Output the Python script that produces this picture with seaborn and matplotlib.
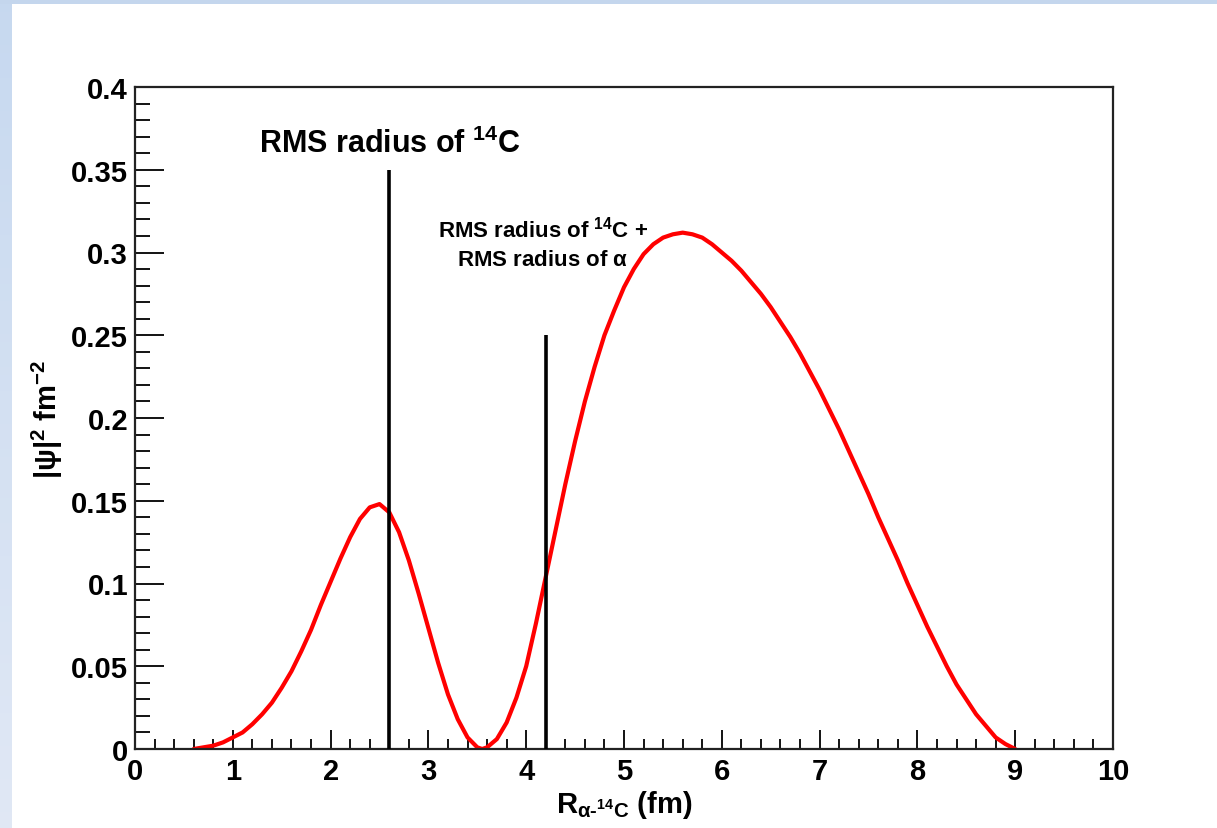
import numpy as np
import pandas as pd
import matplotlib
matplotlib.use("Agg")
import matplotlib.pyplot as plt
import seaborn as sns

# radial probability density of the alpha + 14C relative wave function
r_fm = [0.6, 0.7, 0.8, 0.9, 1.0, 1.1, 1.2, 1.3, 1.4, 1.5, 1.6, 1.7, 1.8, 1.9,
        2.0, 2.1, 2.2, 2.3, 2.4, 2.5, 2.6, 2.7, 2.8, 2.9, 3.0, 3.1, 3.2, 3.3,
        3.4, 3.5, 3.55, 3.6, 3.7, 3.8, 3.9, 4.0, 4.1, 4.2, 4.3, 4.4, 4.5, 4.6,
        4.7, 4.8, 4.9, 5.0, 5.1, 5.2, 5.3, 5.4, 5.5, 5.6, 5.7, 5.8, 5.9, 6.0,
        6.1, 6.2, 6.3, 6.4, 6.5, 6.6, 6.7, 6.8, 6.9, 7.0, 7.1, 7.2, 7.3, 7.4,
        7.5, 7.6, 7.7, 7.8, 7.9, 8.0, 8.1, 8.2, 8.3, 8.4, 8.5, 8.6, 8.7, 8.8,
        8.9, 9.0]
psi2 = [0.000, 0.001, 0.002, 0.004, 0.007, 0.010, 0.015, 0.021, 0.028, 0.037,
        0.047, 0.059, 0.072, 0.087, 0.101, 0.115, 0.128, 0.139, 0.146, 0.148,
        0.143, 0.131, 0.114, 0.094, 0.073, 0.052, 0.033, 0.018, 0.007, 0.001,
        0.000, 0.001, 0.006, 0.016, 0.031, 0.050, 0.076, 0.104, 0.132, 0.160,
        0.186, 0.210, 0.231, 0.250, 0.265, 0.279, 0.290, 0.299, 0.305, 0.309,
        0.311, 0.312, 0.311, 0.309, 0.305, 0.300, 0.295, 0.289, 0.282, 0.275,
        0.267, 0.258, 0.249, 0.239, 0.228, 0.217, 0.205, 0.193, 0.180, 0.167,
        0.154, 0.140, 0.127, 0.114, 0.100, 0.087, 0.074, 0.062, 0.050, 0.039,
        0.030, 0.021, 0.014, 0.007, 0.003, 0.000]

# reference radii (fm) and the heights of their marker lines
marker_r = [2.6, 4.2]
marker_top = [0.35, 0.25]

x_ticks = [0, 1, 2, 3, 4, 5, 6, 7, 8, 9, 10]
y_ticks = [0, 0.05, 0.1, 0.15, 0.2, 0.25, 0.3, 0.35, 0.4]
y_tick_labels = ["0", "0.05", "0.1", "0.15", "0.2", "0.25", "0.3", "0.35", "0.4"]

sns.set_style("ticks")
plt.rcParams["font.family"] = ["Liberation Sans", "DejaVu Sans"]
plt.rcParams["font.weight"] = "bold"
plt.rcParams["text.color"] = "black"
plt.rcParams["axes.labelcolor"] = "black"
plt.rcParams["mathtext.fontset"] = "custom"
plt.rcParams["mathtext.rm"] = "Liberation Sans:bold"
plt.rcParams["mathtext.it"] = "Liberation Sans:bold"
plt.rcParams["mathtext.bf"] = "Liberation Sans:bold"
plt.rcParams["mathtext.default"] = "rm"

fig = plt.figure(figsize=(12.17, 8.29), dpi=100, facecolor="white")

# pale blue slide border on the top and left edges
band_top = fig.add_axes([0, 1 - 5 / 829, 1, 5 / 829])
band_top.imshow(np.ones((1, 2, 3)) * np.array([0.77, 0.84, 0.93]), aspect="auto")
band_top.axis("off")
band_left = fig.add_axes([0, 0, 12 / 1217, 1 - 5 / 829])
grad = np.linspace(0, 1, 100)[:, None, None]
top_c = np.array([0.78, 0.85, 0.94])
bot_c = np.array([0.88, 0.91, 0.96])
band_left.imshow(top_c * (1 - grad) + bot_c * grad, aspect="auto")
band_left.axis("off")

ax = fig.add_axes([135 / 1217, 1 - 750 / 829, (1113 - 135) / 1217, (750 - 88) / 829])

df = pd.DataFrame({"r": r_fm, "psi2": psi2})
sns.lineplot(data=df, x="r", y="psi2", color="#ff0000", linewidth=3.0, ax=ax,
             sort=False)

ax.vlines(marker_r, [0, 0], marker_top, colors="black", linewidth=2.6, zorder=3)

ax.text(2.6, 0.366, r"RMS radius of $^{14}$C", ha="center", va="center",
        fontsize=22, fontweight="bold")
ax.text(4.17, 0.3145, r"RMS radius of $^{14}$C +", ha="center", va="center",
        fontsize=16, fontweight="bold")
ax.text(4.17, 0.2955, r"RMS radius of $\alpha$", ha="center", va="center",
        fontsize=16, fontweight="bold")

ax.set_xlim(0, 10)
ax.set_ylim(0, 0.4)
ax.set_xticks(x_ticks)
ax.set_xticks(np.arange(0, 10.01, 0.2), minor=True)
ax.set_yticks(y_ticks)
ax.set_yticklabels(y_tick_labels)
ax.set_yticks(np.arange(0, 0.401, 0.01), minor=True)

ax.tick_params(axis="both", which="both", direction="in", colors="black",
               labelsize=21, width=1.3)
ax.tick_params(axis="x", which="major", length=14, pad=6)
ax.tick_params(axis="x", which="minor", length=7)
ax.tick_params(axis="y", which="major", length=21, pad=5)
ax.tick_params(axis="y", which="minor", length=11)
for lab in ax.get_xticklabels() + ax.get_yticklabels():
    lab.set_fontweight("bold")

for side in ["left", "right", "top", "bottom"]:
    ax.spines[side].set_visible(True)
    ax.spines[side].set_linewidth(1.6)
    ax.spines[side].set_color("#222222")

ax.set_xlabel(r"R$_{\alpha\text{-}^{14}C}$ (fm)", fontsize=21, fontweight="bold",
              labelpad=2)
ax.set_ylabel(r"|ψ|$^2$ fm$^{-2}$", fontsize=21, fontweight="bold", labelpad=4)

fig.savefig("out.png", dpi=100, facecolor="white")
